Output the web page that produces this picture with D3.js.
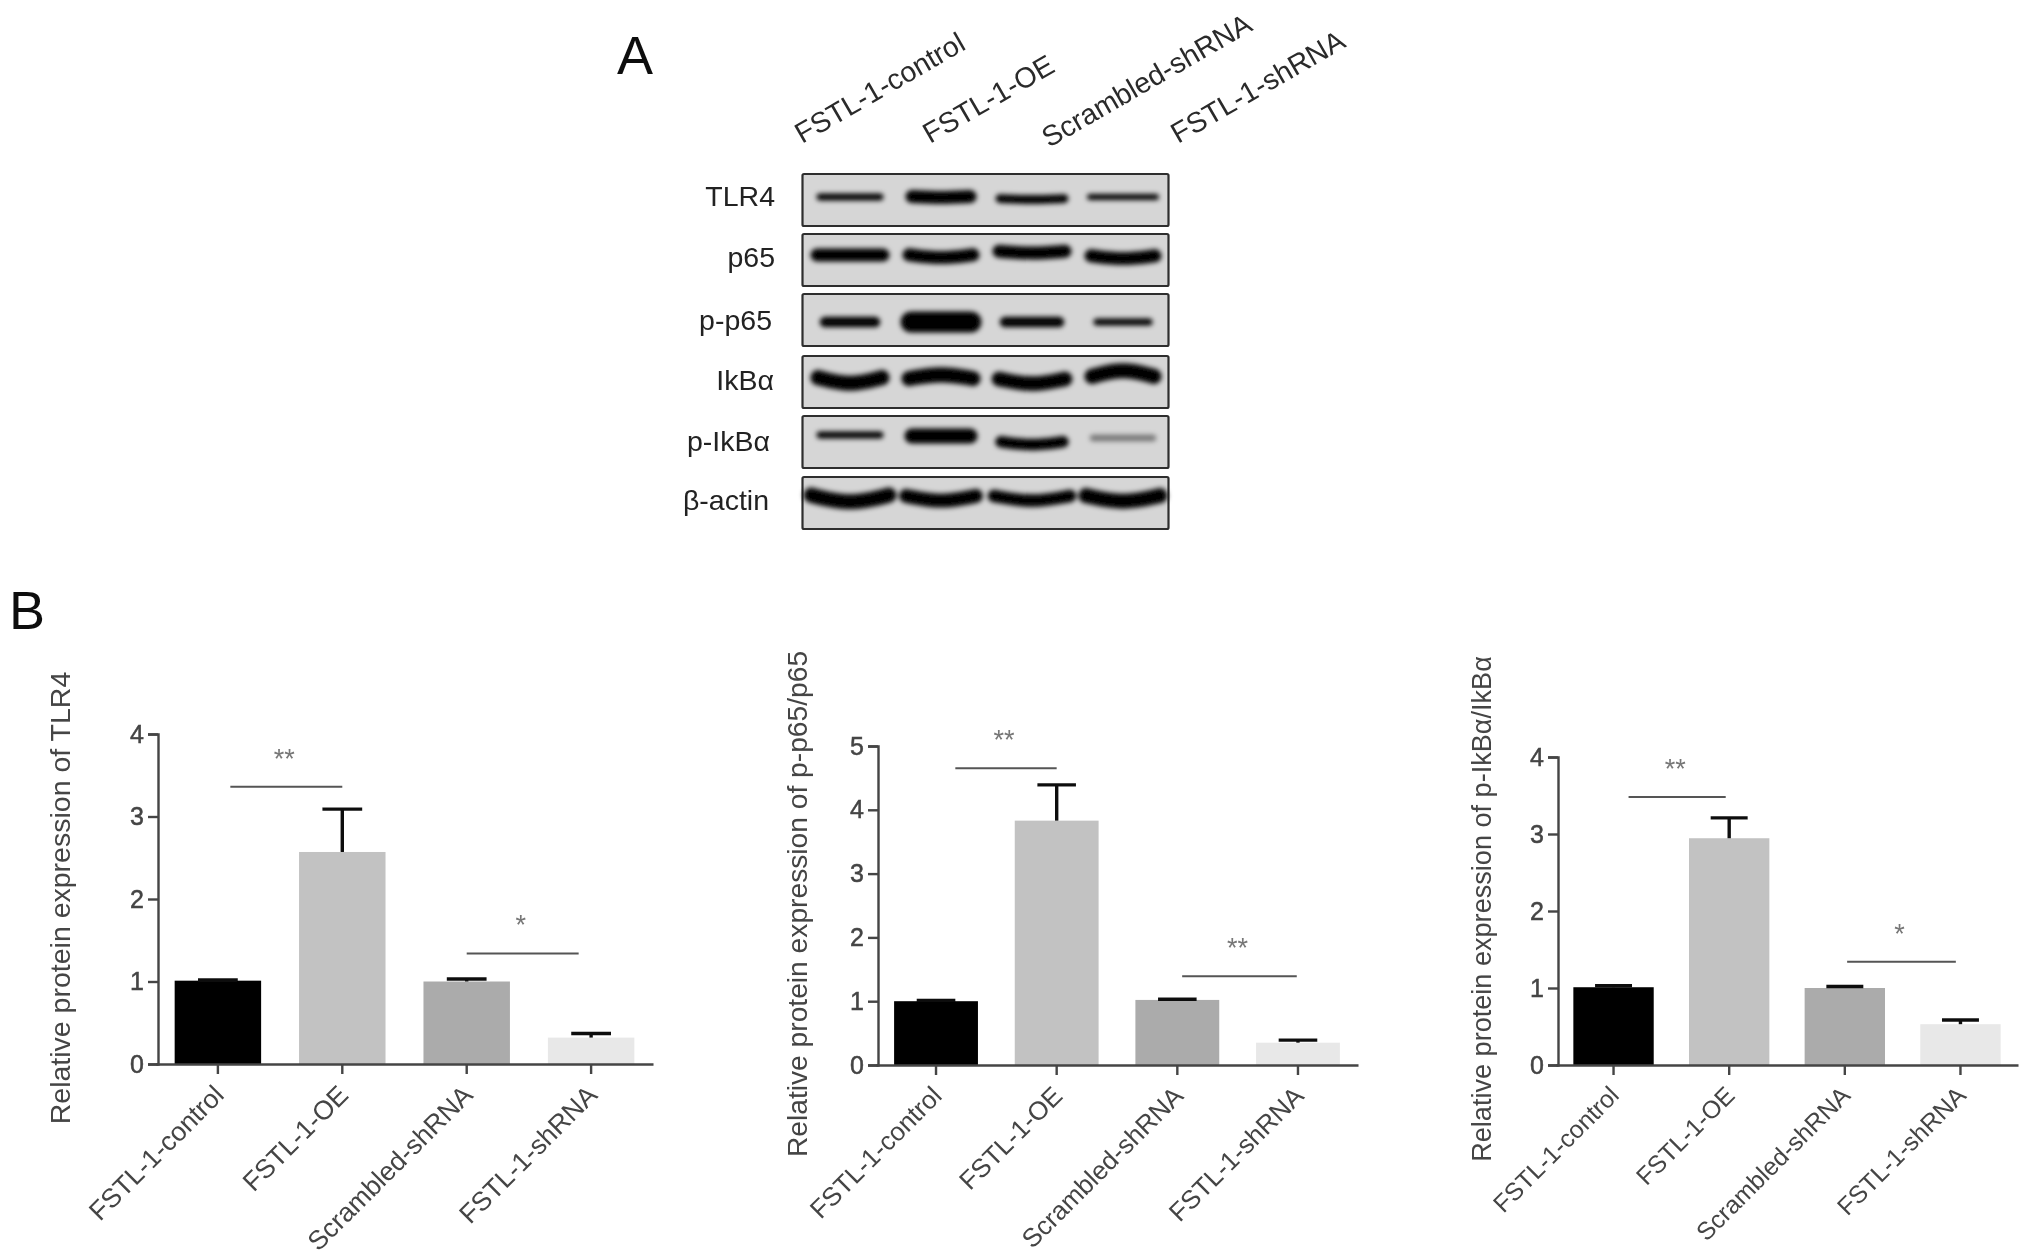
<!DOCTYPE html>
<html>
<head>
<meta charset="utf-8">
<script src="https://cdn.jsdelivr.net/npm/d3@7"></script>
<style>
  html, body { margin: 0; padding: 0; background: #fff; }
  svg { display: block; }
  text { font-family: "Liberation Sans", Arial, sans-serif; }
</style>
</head>
<body>
<div id="vis"></div>
<script>
const groups = ["FSTL-1-control", "FSTL-1-OE", "Scrambled-shRNA", "FSTL-1-shRNA"];
const barColors = ["#000000", "#c2c2c2", "#ababab", "#e8e8e8"];

// panel B values
const tlr4Values = [1.01, 2.57, 1.0, 0.32];
const tlr4Tops = [1.02, 3.09, 1.03, 0.37];
const tlr4Ticks = [0, 1, 2, 3, 4];
const tlr4Sig = [[0.1, 1.0, 3.36, "**"], [2.0, 2.9, 1.34, "*"]];

const p65Values = [1.0, 3.83, 1.02, 0.35];
const p65Tops = [1.01, 4.39, 1.03, 0.39];
const p65Ticks = [0, 1, 2, 3, 4, 5];
const p65Sig = [[0.16, 1.0, 4.65, "**"], [2.04, 2.99, 1.39, "**"]];

const ikbValues = [1.01, 2.945, 1.0, 0.53];
const ikbTops = [1.03, 3.21, 1.02, 0.585];
const ikbTicks = [0, 1, 2, 3, 4];
const ikbSig = [[0.13, 0.97, 3.48, "**"], [2.02, 2.96, 1.34, "*"]];

// panel A, band density per lane
const blotNames = ["TLR4", "p65", "p-p65", "IkBα", "p-IkBα", "β-actin"];
const tlr4Bands = [0.33, 0.62, 0.42, 0.28];
const totalP65Bands = [0.62, 0.62, 0.62, 0.62];
const phosP65Bands = [0.5, 1.0, 0.5, 0.34];
const ikbBands = [0.72, 0.72, 0.7, 0.72];
const phosIkbBands = [0.33, 0.72, 0.55, 0.3];
const actinBands = [0.72, 0.66, 0.6, 0.72];

const width = 2031, height = 1259;

const svg = d3.select("#vis").append("svg")
    .attr("width", width)
    .attr("height", height)
    .attr("viewBox", [0, 0, width, height]);

const defs = svg.append("defs");
defs.append("filter").attr("id", "soft")
    .attr("filterUnits", "userSpaceOnUse")
    .attr("x", 0).attr("y", 0).attr("width", width).attr("height", height)
  .append("feGaussianBlur").attr("stdDeviation", 0.6);
defs.append("filter").attr("id", "band")
    .attr("filterUnits", "userSpaceOnUse")
    .attr("x", 0).attr("y", 0).attr("width", width).attr("height", height)
  .append("feGaussianBlur").attr("stdDeviation", 2.5);

const root = svg.append("g").attr("filter", "url(#soft)");

root.append("text").attr("x", 617).attr("y", 74).attr("font-size", 54).attr("fill", "#111").text("A");
root.append("text").attr("x", 9).attr("y", 629).attr("font-size", 54).attr("fill", "#111").text("B");

function drawBlots() {
  const g = root.append("g");
  const bands = [tlr4Bands, totalP65Bands, phosP65Bands, ikbBands, phosIkbBands, actinBands];

  // per-row look of the blot, in pixels relative to the panel
  const tops = [174, 234, 294, 356, 416, 477];
  const labelY = [197, 258, 321, 381, 442, 501];
  const labelEnd = [775, 775, 772, 774, 770, 769];
  const laneDy = [[23, 23, 25, 23], [21, 22, 18, 23], [28, 28, 28, 28], [24, 21, 25, 18], [19, 20, 27, 22], [21, 21, 21, 21]];
  const laneW = [[68, 66, 72, 74], [74, 72, 74, 72], [58, 68, 62, 60], [72, 72, 74, 70], [68, 66, 70, 68], [86, 78, 84, 82]];
  const sag = [[0, 1, 1, 0], [0, 3, 2, 3], [0, 0, 0, 0], [6, -4, 5, -6], [0, 0, 3, 0], [7, 5, 5, 6]];
  const panelH = 52;

  const lane = d3.scalePoint().domain(d3.range(4)).range([850, 1123]);
  const thick = d3.scaleLinear().domain([0, 1]).range([0, 21]);

  tops.forEach((top, r) => {
    g.append("rect")
        .attr("x", 802.5).attr("y", top)
        .attr("width", 366).attr("height", panelH)
        .attr("rx", 1.5)
        .attr("fill", "#d6d6d6")
        .attr("stroke", "#2e2e2e")
        .attr("stroke-width", 2.2);

    const line = d3.line().curve(d3.curveBasis);
    g.append("g")
        .attr("filter", "url(#band)")
        .attr("fill", "none")
        .attr("stroke-linecap", "round")
      .selectAll("path")
      .data(bands[r])
      .join("path")
        .attr("d", (d, i) => {
          const c = lane(i), w = laneW[r][i] - 8, y = top + laneDy[r][i], s = sag[r][i];
          return line([[c - w / 2, y - s * 0.4], [c, y + s], [c + w / 2, y - s * 0.4]]);
        })
        .attr("stroke", "#000")
        .attr("stroke-opacity", (d, i) => (r == 4 && i == 3) ? 0.45 : 1)
        .attr("stroke-width", d => thick(d));

    g.append("text")
        .attr("x", labelEnd[r])
        .attr("y", labelY[r] + 9)
        .attr("text-anchor", "end")
        .attr("font-size", 28.5)
        .attr("fill", "#222")
        .text(blotNames[r]);
  });

  // column headers
  const headX = [802, 930, 1049, 1178];
  const headY = [144, 144, 148, 144];
  g.selectAll(".head")
    .data(groups)
    .join("text")
      .attr("class", "head")
      .attr("transform", (d, i) => `translate(${headX[i]},${headY[i]}) rotate(-30)`)
      .attr("font-size", 28.6)
      .attr("fill", "#2a2a2a")
      .text(d => d);
}

function drawBars(opts) {
  const {x0, x1, yTop, yBase, values, tops, ticks, sig, title, titleX, titleMid, titleSize, labelSize} = opts;
  const g = root.append("g");
  const color = "#444";

  const x = d3.scaleBand().domain(groups).range([x0 - 2, x1 - 2]).paddingInner(0.305).paddingOuter(0.15);
  const y = d3.scaleLinear().domain([0, d3.max(ticks)]).range([yBase, yTop]);
  const idx = d3.scaleLinear().domain([0, 3])
      .range([x(groups[0]) + x.bandwidth() / 2, x(groups[3]) + x.bandwidth() / 2]);

  g.selectAll(".bar")
    .data(values)
    .join("rect")
      .attr("class", "bar")
      .attr("x", (d, i) => x(groups[i]))
      .attr("y", d => y(d))
      .attr("width", x.bandwidth())
      .attr("height", d => y(0) - y(d))
      .attr("fill", (d, i) => barColors[i]);

  // upper error bars
  const capW = x.bandwidth() * 0.46;
  const err = g.selectAll(".err").data(tops).join("g").attr("class", "err")
      .attr("stroke", "#111").attr("stroke-width", 3.4);
  err.append("line")
      .attr("x1", (d, i) => idx(i)).attr("x2", (d, i) => idx(i))
      .attr("y1", (d, i) => y(values[i])).attr("y2", d => y(d));
  err.append("line")
      .attr("x1", (d, i) => idx(i) - capW / 2).attr("x2", (d, i) => idx(i) + capW / 2)
      .attr("y1", d => y(d)).attr("y2", d => y(d));

  const yAxis = g.append("g")
      .attr("transform", `translate(${x0},0)`)
      .call(d3.axisLeft(y).tickValues(ticks).tickFormat(d3.format("d")).tickSize(10).tickPadding(4));
  const xAxis = g.append("g")
      .attr("transform", `translate(0,${yBase})`)
      .call(d3.axisBottom(x).tickSize(10).tickSizeOuter(0));

  g.selectAll(".domain, .tick line").attr("stroke", color).attr("stroke-width", 2.4);
  yAxis.selectAll("text").attr("font-size", 25).attr("fill", color).attr("stroke", color).attr("stroke-width", 0.5);
  xAxis.selectAll("text")
      .attr("font-size", labelSize)
      .attr("fill", color)
      .attr("text-anchor", "end")
      .attr("transform", "translate(-11,14) rotate(-45)")
      .attr("dy", "0.5em");

  g.append("text")
      .attr("transform", `translate(${titleX},${titleMid}) rotate(-90)`)
      .attr("text-anchor", "middle")
      .attr("font-size", titleSize)
      .attr("fill", color)
      .text(title);

  // significance lines
  const s = g.selectAll(".sig").data(sig).join("g").attr("class", "sig");
  s.append("line")
      .attr("x1", d => idx(d[0])).attr("x2", d => idx(d[1]))
      .attr("y1", d => y(d[2])).attr("y2", d => y(d[2]))
      .attr("stroke", "#555").attr("stroke-width", 2);
  s.append("text")
      .attr("x", d => (idx(d[0]) + idx(d[1])) / 2 - 2)
      .attr("y", d => y(d[2]) - 19)
      .attr("text-anchor", "middle")
      .attr("font-size", 27)
      .attr("fill", "#777")
      .text(d => d[3]);
}

drawBlots();

drawBars({x0: 158, x1: 655, yTop: 734, yBase: 1064, values: tlr4Values, tops: tlr4Tops,
  ticks: tlr4Ticks, sig: tlr4Sig, title: "Relative protein expression of TLR4", titleX: 70, titleMid: 898, titleSize: 28.5, labelSize: 26.6});
drawBars({x0: 878, x1: 1360, yTop: 746, yBase: 1065, values: p65Values, tops: p65Tops,
  ticks: p65Ticks, sig: p65Sig, title: "Relative protein expression of p-p65/p65", titleX: 807, titleMid: 904, titleSize: 28.2, labelSize: 26});
drawBars({x0: 1558, x1: 2020, yTop: 757, yBase: 1065, values: ikbValues, tops: ikbTops,
  ticks: ikbTicks, sig: ikbSig, title: "Relative protein expression of p-IkBα/IkBα", titleX: 1491, titleMid: 909, titleSize: 27.1, labelSize: 24.8});
</script>
</body>
</html>
